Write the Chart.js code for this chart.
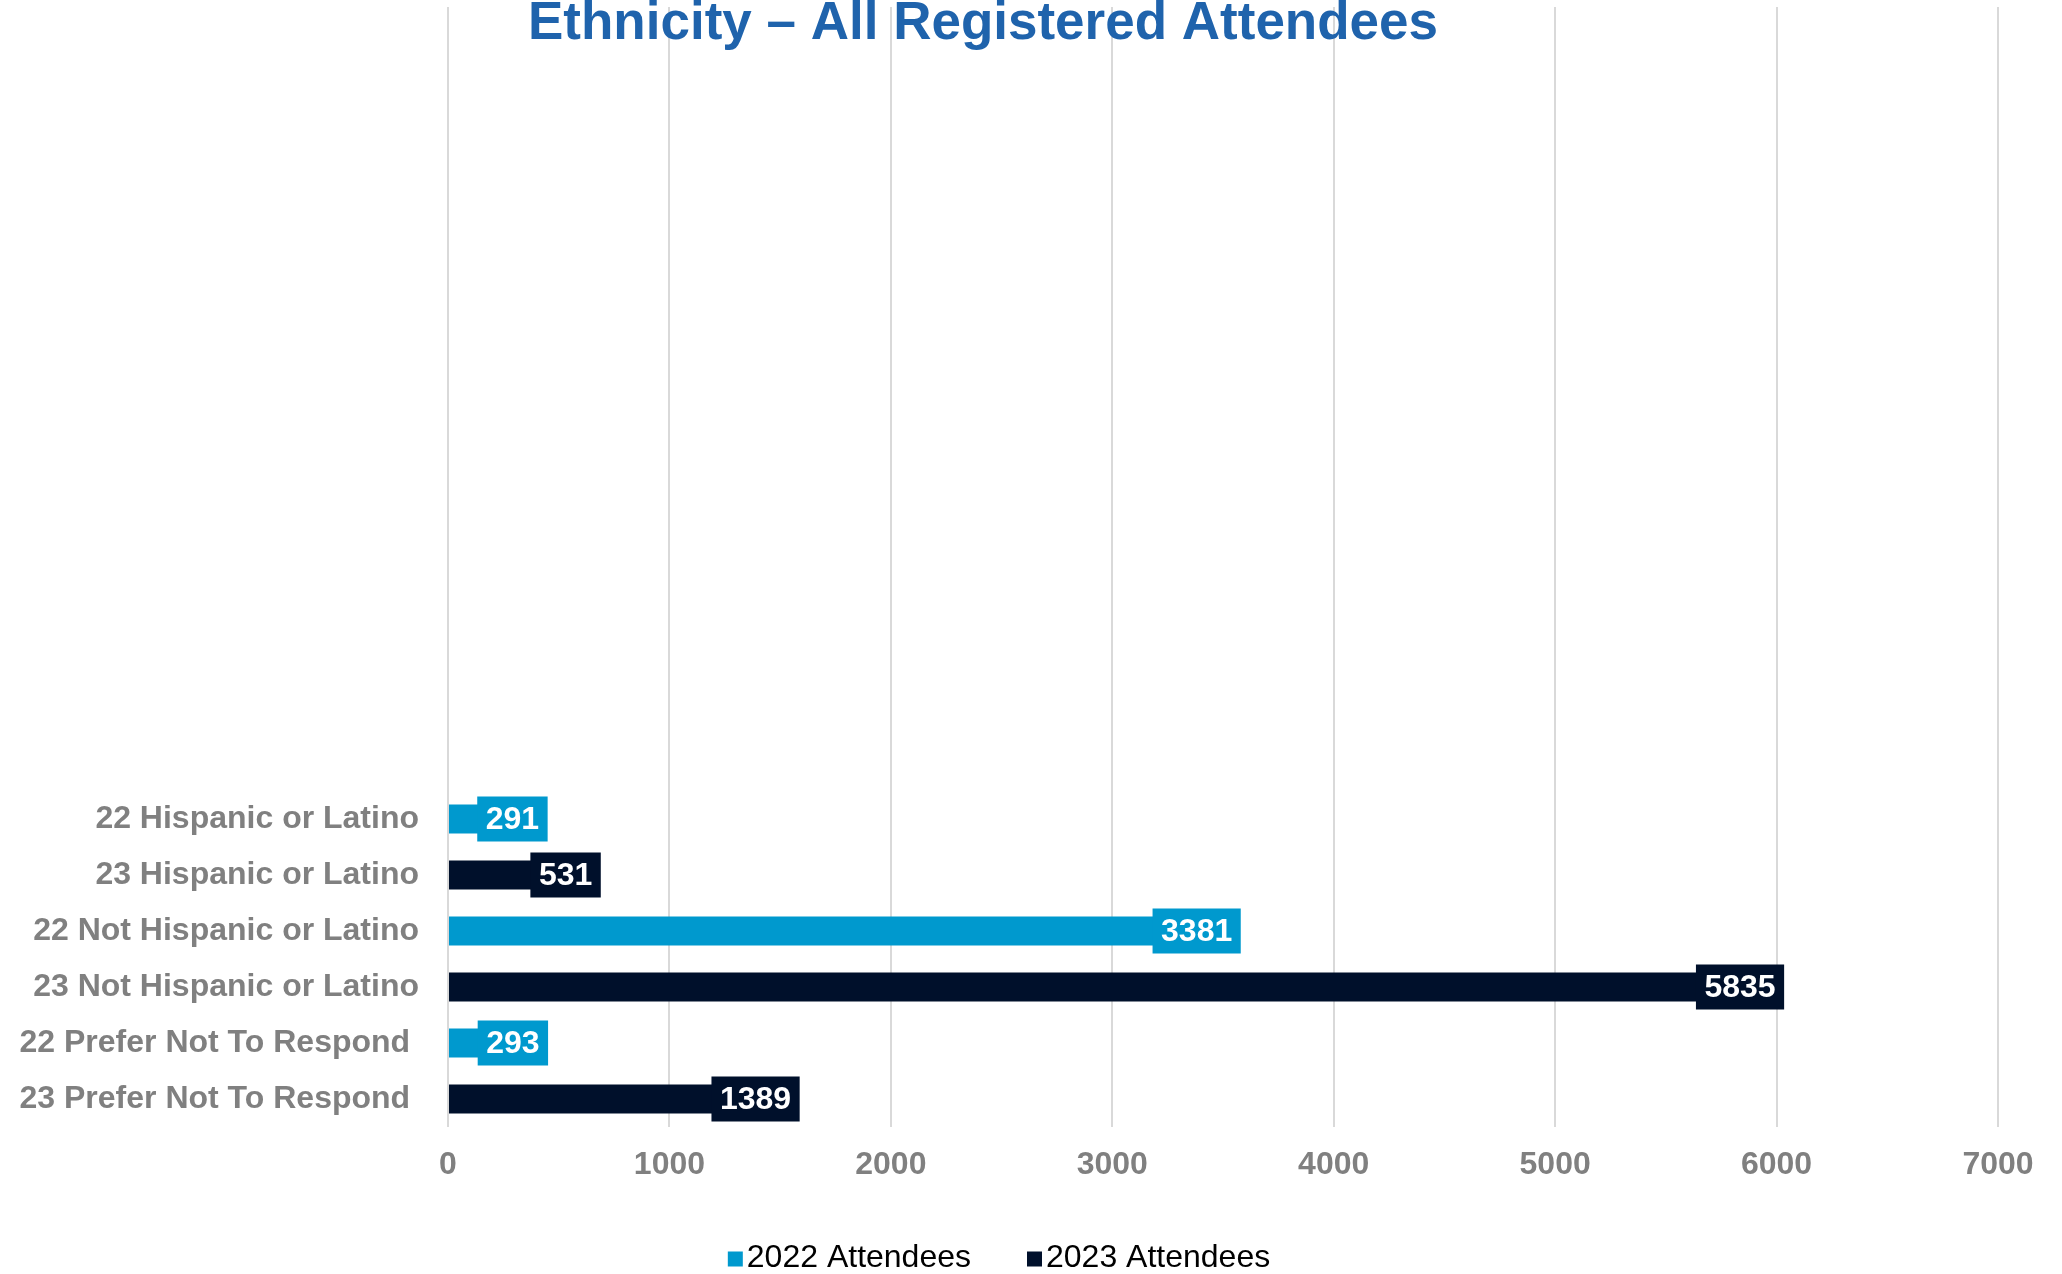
<!DOCTYPE html>
<html>
<head>
<meta charset="utf-8">
<title>Ethnicity – All Registered Attendees</title>
<script src="https://cdn.jsdelivr.net/npm/chart.js@4.4.1/dist/chart.umd.min.js"></script>
<style>
  html, body { margin: 0; padding: 0; background: #fff; }
  #wrap { width: 2062px; height: 1274px; }
</style>
</head>
<body>
<div id="wrap"><canvas id="ethnicity-chart" width="2062" height="1274"></canvas></div>
<script>
(function () {
    "use strict";

    var chartTitle = "Ethnicity – All Registered Attendees";
    var categories = [
        "22 Hispanic or Latino",
        "23 Hispanic or Latino",
        "22 Not Hispanic or Latino",
        "23 Not Hispanic or Latino",
        "22 Prefer Not To Respond ",
        "23 Prefer Not To Respond "
    ];
    var emptyRows = 14; // the original chart leaves blank category rows above the bars
    var seriesNames = ["2022 Attendees", "2023 Attendees"];
    var attendees2022 = [291, null, 3381, null, 293, null];
    var attendees2023 = [null, 531, null, 5835, null, 1389];
    var xTicks = [0, 1000, 2000, 3000, 4000, 5000, 6000, 7000];

    var lightBlue = "#0099CE";
    var navy = "#00102B";
    var grey = "#808080";
    var font = '"Liberation Sans", Arial, sans-serif';

    var pad = function (arr, fill) {
        var out = [];
        for (var i = 0; i < emptyRows; i++) out.push(fill);
        return out.concat(arr);
    };

    // value boxes drawn over the end of each bar
    var valueBoxes = {
        id: "valueBoxes",
        afterDatasetsDraw: function (chart) {
            var ctx = chart.ctx;
            ctx.save();
            ctx.font = "bold 32px " + font;
            ctx.textAlign = "center";
            ctx.textBaseline = "middle";
            chart.data.datasets.forEach(function (ds, i) {
                chart.getDatasetMeta(i).data.forEach(function (bar, j) {
                    var v = ds.data[j];
                    if (v === null || v === undefined) return;
                    var text = String(v);
                    var w = ctx.measureText(text).width + 17;
                    var h = 45;
                    ctx.fillStyle = ds.backgroundColor;
                    ctx.fillRect(bar.x - w / 2, bar.y - h / 2, w, h);
                    ctx.fillStyle = "#ffffff";
                    ctx.fillText(text, bar.x, bar.y + 1);
                });
            });
            ctx.restore();
        }
    };

    // title sits on top of the gridlines, legend at the bottom
    var titleAndLegend = {
        id: "titleAndLegend",
        afterDraw: function (chart) {
            var ctx = chart.ctx;
            ctx.save();
            ctx.font = "bold 53px " + font;
            ctx.fillStyle = "#1F63AC";
            ctx.textAlign = "center";
            ctx.textBaseline = "alphabetic";
            ctx.fillText(chartTitle, 983, 39);

            ctx.font = "32px " + font;
            ctx.textAlign = "left";
            ctx.textBaseline = "middle";
            var box = 15, gap = 4, itemGap = 56;
            var items = chart.data.datasets.map(function (ds) {
                return { label: ds.label, color: ds.backgroundColor, w: box + gap + ctx.measureText(ds.label).width };
            });
            var total = items.reduce(function (s, it) { return s + it.w; }, 0) + itemGap * (items.length - 1);
            var x = 999 - total / 2;
            var y = 1258;
            items.forEach(function (it) {
                ctx.fillStyle = it.color;
                ctx.fillRect(x, y - box / 2 + 1, box, box);
                ctx.fillStyle = "#000000";
                ctx.fillText(it.label, x + box + gap, y);
                x += it.w + itemGap;
            });
            ctx.restore();
        }
    };

    var ctx = document.getElementById("ethnicity-chart").getContext("2d");
    var chart = new Chart(ctx, {
        type: "bar",
        data: {
            labels: pad(categories, ""),
            datasets: [{
                label: seriesNames[0],
                data: pad(attendees2022, null),
                backgroundColor: lightBlue
            }, {
                label: seriesNames[1],
                data: pad(attendees2023, null),
                backgroundColor: navy
            }]
        },
        options: {
            indexAxis: "y",
            responsive: false,
            animation: false,
            devicePixelRatio: 1,
            layout: { padding: { top: 7, right: 64, bottom: 0, left: 0 } },
            datasets: {
                bar: { categoryPercentage: 1.0, barPercentage: 0.52, borderWidth: 0 }
            },
            plugins: {
                legend: { display: false },
                title: { display: false },
                tooltip: { enabled: false }
            },
            scales: {
                x: {
                    stacked: true,
                    min: 0,
                    max: 7000,
                    afterBuildTicks: function (scale) {
                        scale.ticks = xTicks.map(function (v) { return { value: v }; });
                    },
                    afterFit: function (scale) { scale.height = 147; },
                    grid: { color: "#D9D9D9", lineWidth: 2, drawTicks: false },
                    border: { display: false },
                    ticks: {
                        padding: 19,
                        color: grey,
                        font: { family: font, size: 32, weight: "bold" },
                        callback: function (v) { return String(v); }
                    }
                },
                y: {
                    stacked: true,
                    afterFit: function (scale) {
                        scale.width = 448;
                        scale.paddingTop = 0;
                        scale.paddingBottom = 0;
                    },
                    grid: { display: false, drawTicks: false },
                    border: { display: false },
                    ticks: {
                        padding: 29,
                        color: grey,
                        autoSkip: false,
                        font: { family: font, size: 32, weight: "bold" }
                    }
                }
            }
        },
        plugins: [valueBoxes, titleAndLegend]
    });
})();
</script>
</body>
</html>
